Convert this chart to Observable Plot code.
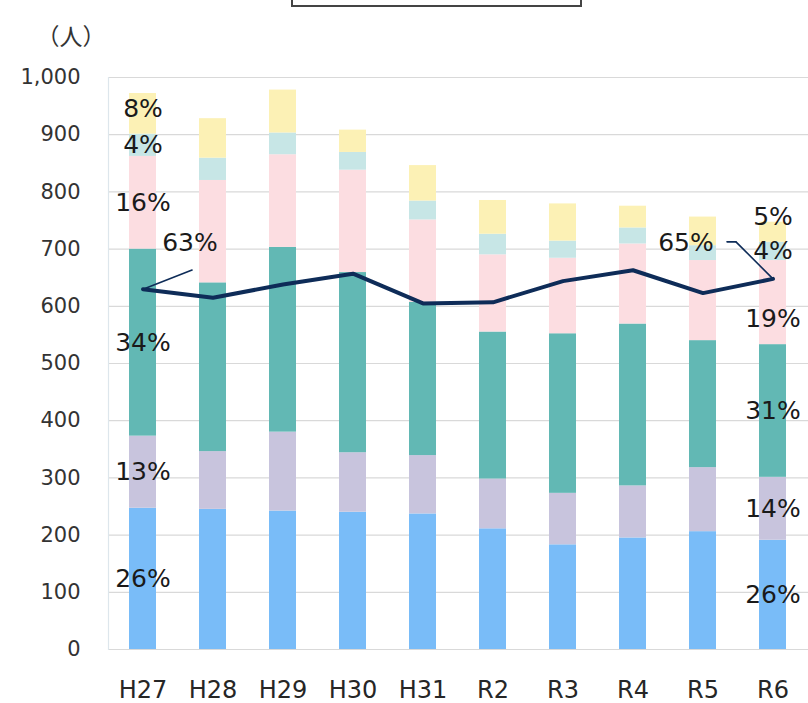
<!DOCTYPE html>
<html><head><meta charset="utf-8">
<script src="https://cdn.jsdelivr.net/npm/d3@7"></script>
<script src="https://cdn.jsdelivr.net/npm/@observablehq/plot@0.6"></script>
<style>
html,body{margin:0;padding:0;background:#fff;overflow:hidden;}
#wrap{position:relative;width:808px;height:703px;overflow:hidden;}
#box{position:absolute;left:291px;top:-22px;width:287px;height:25px;border:2px solid #444;background:#fff;}
#chart svg{display:block;}
</style></head>
<body><div id="wrap"><div id="chart"></div><div id="box"></div></div>
<script>
// Categories (fiscal years)
const years = ["H27","H28","H29","H30","H31","R2","R3","R4","R5","R6"];
// Series (bottom to top)
const seriesNames = ["系列1","系列2","系列3","系列4","系列5","系列6"];
const seriesColors = ["#79BCF8","#C8C4DD","#62B8B4","#FCDDE1","#C7E6E6","#FCF1B5"];
const s1 = [247,245,242,240,237,211,183,195,206,191];
const s2 = [126,101,138,104,102, 87, 90, 91,112,110];
const s3 = [327,295,323,315,268,257,279,283,222,232];
const s4 = [162,179,162,179,144,135,132,140,140,147];
const s5 = [ 39, 39, 38, 31, 33, 36, 30, 28, 26, 32];
const s6 = [ 71, 69, 75, 39, 62, 59, 65, 38, 50, 35];
// Line series (%)
const linePct = [63.0,61.5,63.8,65.7,60.5,60.7,64.4,66.3,62.3,64.8];
// Share labels for first and last bars (bottom to top)
const labelsFirst = ["26%","13%","34%","16%","4%","8%"];
const labelsLast  = ["26%","14%","31%","19%","4%","5%"];
const lineLabelFirst = "63%";
const lineLabelLast = "65%";
const unitLabel = "（人）";
const yTicks = d3.range(0, 1001, 100);

const seriesValues = [s1,s2,s3,s4,s5,s6];
const rows = [];
years.forEach((yr, i) => {
  let cum = 0;
  seriesValues.forEach((arr, k) => {
    const v = arr[i];
    let label = null;
    if (i === 0) label = labelsFirst[k];
    if (i === years.length - 1) label = labelsLast[k];
    rows.push({year: yr, series: seriesNames[k], k, lo: cum, hi: cum + v, mid: cum + v / 2, label});
    cum += v;
  });
});
const lineRows = years.map((yr, i) => ({year: yr, v: linePct[i] * 10, pct: linePct[i]}));
const firstPt = [lineRows[0]];
const lastPt = [lineRows[lineRows.length - 1]];

const pctFont = "DejaVu Sans, sans-serif";
const isLast = d => d.year === years[years.length - 1];
const isFirst = d => d.year === years[0];

const chart = Plot.plot({
  width: 808,
  height: 703,
  marginTop: 77,
  marginBottom: 54,
  marginLeft: 108,
  marginRight: 0,
  style: {fontFamily: "DejaVu Sans, sans-serif", background: "#fff", color: "#333"},
  x: {domain: years, paddingInner: 0.614, paddingOuter: 0.307, label: null},
  y: {domain: [0, 1000], label: null},
  color: {domain: seriesNames, range: seriesColors},
  marks: [
    Plot.ruleY(yTicks, {stroke: "#d9d9d9", strokeWidth: 1.2}),
    Plot.frame({anchor: "left", stroke: "#dde6ec", strokeWidth: 1.2}),
    Plot.axisY({ticks: yTicks, tickFormat: d3.format(","), tickSize: 0, tickPadding: 28, fontSize: 21, fill: "#333"}),
    Plot.axisX({tickSize: 0, tickPadding: 31, fontSize: 24, fill: "#262626"}),
    Plot.barY(rows, {x: "year", y1: "lo", y2: "hi", fill: "series"}),
    Plot.line(lineRows, {x: "year", y: "v", stroke: "#0E2C58", strokeWidth: 4, strokeLinejoin: "miter"}),
    // leader lines
    Plot.vector(firstPt, {x: "year", y: "v", length: 52.6, rotate: 68.8, anchor: "start", r: 0, stroke: "#0E2C58", strokeWidth: 1.6}),
    Plot.vector(lastPt, {x: "year", y: "v", length: 52, rotate: -45, anchor: "start", r: 0, stroke: "#0E2C58", strokeWidth: 1.6}),
    Plot.vector(lastPt, {x: "year", y: "v", dx: -37, dy: -37, length: 9, rotate: -90, anchor: "start", r: 0, stroke: "#0E2C58", strokeWidth: 1.6}),
    Plot.text(firstPt, {x: "year", y: "v", text: () => lineLabelFirst, dx: 47, dy: -46, fontSize: 25, fill: "#1a1a1a", fontFamily: pctFont}),
    Plot.text(lastPt, {x: "year", y: "v", text: () => lineLabelLast, dx: -87, dy: -36, fontSize: 25, fill: "#1a1a1a", fontFamily: pctFont}),
    // share labels
    Plot.text(rows, {filter: d => d.label && !(isLast(d) && (d.k === 5 || d.k === 3)) && !(isFirst(d) && d.k === 5), x: "year", y: "mid", text: "label", fontSize: 25, fill: "#1a1a1a", fontFamily: pctFont}),
    Plot.text(rows, {filter: d => d.label && isFirst(d) && d.k === 5, x: "year", y: "mid", text: "label", dy: -5, fontSize: 25, fill: "#1a1a1a", fontFamily: pctFont}),
    Plot.text(rows, {filter: d => d.label && isLast(d) && d.k === 5, x: "year", y: "mid", text: "label", dy: -15, fontSize: 25, fill: "#1a1a1a", fontFamily: pctFont}),
    Plot.text(rows, {filter: d => d.label && isLast(d) && d.k === 3, x: "year", y: "mid", text: "label", dy: 16, fontSize: 25, fill: "#1a1a1a", fontFamily: pctFont}),
    Plot.text([unitLabel], {text: d => d, frameAnchor: "top-left", dx: -72, dy: -49, textAnchor: "start", fontSize: 23, fill: "#333", fontFamily: "Noto Sans CJK JP, sans-serif"})
  ]
});
document.getElementById("chart").appendChild(chart);
</script>
</body></html>
